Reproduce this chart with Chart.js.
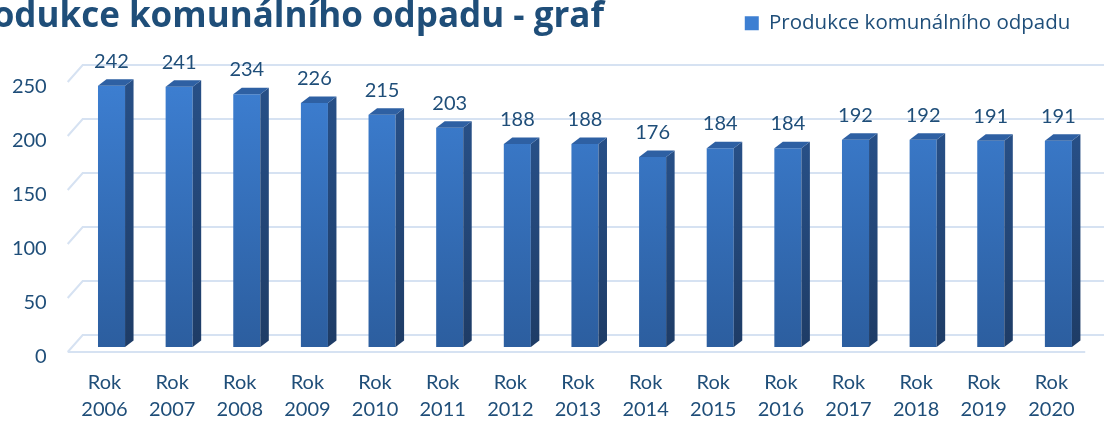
<!DOCTYPE html>
<html lang="cs">
<head>
<meta charset="utf-8">
<title>Produkce komunálního odpadu - graf</title>
<script src="https://cdn.jsdelivr.net/npm/chart.js@4"></script>
<style>
  html, body { margin: 0; padding: 0; background: #fff; }
  #obal { position: relative; width: 1104px; height: 424px; }
</style>
</head>
<body>
<div id="obal"><canvas id="graf"></canvas></div>
<script>
// data
const roky = ['2006', '2007', '2008', '2009', '2010', '2011', '2012', '2013',
              '2014', '2015', '2016', '2017', '2018', '2019', '2020'];
const produkce = [242, 241, 234, 226, 215, 203, 188, 188, 176, 184, 184, 192, 192, 191, 191];
const osaY = [0, 50, 100, 150, 200, 250];
const nazevSerie = 'Produkce komunálního odpadu';
const nadpis = 'Produkce komunálního odpadu - graf';

const barvaTextu = '#1F4E79';
const pismo = 'Lato, "Open Sans", sans-serif';

// hloubka "3D" sloupců a mřížky
const hx = 8.5, hy = 6.5;

const prostor3d = {
  id: 'prostor3d',
  beforeInit(chart) {
    // legenda nahoře, plocha grafu začíná níž
    const fit = chart.legend.fit;
    chart.legend.fit = function () {
      fit.call(this);
      this.height = 86;
    };
  },
  beforeDatasetsDraw(chart) {
    const { ctx, chartArea: a, scales: { y } } = chart;
    ctx.save();
    ctx.strokeStyle = '#D6E2F2';
    ctx.lineWidth = 2;
    y.ticks.forEach(t => {
      const py = y.getPixelForValue(t.value);
      ctx.beginPath();
      ctx.moveTo(a.left - 10, py + 5);
      ctx.lineTo(a.left + 5, py - 12);
      ctx.lineTo(chart.width, py - 12);
      if (t.value === 0) {
        ctx.moveTo(a.left - 10, py + 5);
        ctx.lineTo(a.right - 7, py + 5);
      }
      ctx.stroke();
    });
    ctx.restore();
  },
  afterDatasetsDraw(chart) {
    const { ctx } = chart;
    const meta = chart.getDatasetMeta(0);
    ctx.save();
    meta.data.forEach((bar, i) => {
      const { x, y, base, width } = bar.getProps(['x', 'y', 'base', 'width'], true);
      const l = x - width / 2, r = x + width / 2;

      // boční stěna
      const gs = ctx.createLinearGradient(0, y, 0, base);
      gs.addColorStop(0, '#274F86');
      gs.addColorStop(1, '#1E3C66');
      ctx.fillStyle = gs;
      ctx.beginPath();
      ctx.moveTo(r, y);
      ctx.lineTo(r + hx, y - hy);
      ctx.lineTo(r + hx, base - hy);
      ctx.lineTo(r, base);
      ctx.closePath();
      ctx.fill();

      // horní stěna
      ctx.fillStyle = '#2E60A3';
      ctx.beginPath();
      ctx.moveTo(l, y);
      ctx.lineTo(l + hx, y - hy);
      ctx.lineTo(r + hx, y - hy);
      ctx.lineTo(r, y);
      ctx.closePath();
      ctx.fill();

      // hodnota nad sloupcem
      ctx.fillStyle = barvaTextu;
      ctx.font = '20px ' + pismo;
      ctx.textAlign = 'center';
      ctx.textBaseline = 'alphabetic';
      ctx.fillText(produkce[i], x, y - 18);
    });
    ctx.restore();
  },
  afterDraw(chart) {
    // nadpis je vlevo oříznutý
    const { ctx } = chart;
    ctx.save();
    ctx.fillStyle = barvaTextu;
    ctx.font = 'bold 35px "Open Sans", sans-serif';
    ctx.textAlign = 'right';
    ctx.textBaseline = 'alphabetic';
    ctx.fillText(nadpis, 604, 27);
    ctx.restore();
  }
};

const config = {
  type: 'bar',
  data: {
    labels: roky.map(r => ['Rok', r]),
    datasets: [{
      label: nazevSerie,
      data: produkce,
      backgroundColor(c) {
        const a = c.chart.chartArea;
        if (!a) return '#3A78C8';
        const g = c.chart.ctx.createLinearGradient(0, a.top, 0, a.bottom);
        g.addColorStop(0, '#3D7FD2');
        g.addColorStop(1, '#2C5E9F');
        return g;
      },
      borderWidth: 0,
      barPercentage: 0.4,
      categoryPercentage: 1
    }]
  },
  options: {
    responsive: true,
    maintainAspectRatio: false,
    animation: false,
    layout: { padding: { top: -9, right: 11.7, bottom: 1, left: 0 } },
    plugins: {
      legend: {
        position: 'top',
        align: 'end',
        labels: {
          color: barvaTextu,
          font: { size: 20.5, family: '"Open Sans", sans-serif' },
          boxWidth: 14,
          boxHeight: 14,
          padding: 22
        }
      },
      title: { display: false },
      tooltip: { enabled: false }
    },
    scales: {
      x: {
        afterFit(s) { s.height = 76; },
        grid: { display: false, drawTicks: false },
        border: { display: false },
        ticks: {
          color: barvaTextu,
          font: { size: 20, family: pismo, lineHeight: 1.35 },
          padding: 22,
          labelOffset: -7,
          maxRotation: 0,
          autoSkip: false
        }
      },
      y: {
        min: 0,
        max: 250,
        afterBuildTicks(s) { s.ticks = osaY.map(v => ({ value: v })); },
        afterFit(s) { s.width = 77.7; },
        grid: { display: false, drawTicks: false },
        border: { display: false },
        ticks: {
          color: barvaTextu,
          font: { size: 20, family: pismo },
          padding: 31,
          labelOffset: 10
        }
      }
    }
  },
  plugins: [prostor3d]
};

new Chart(document.getElementById('graf'), config);
</script>
</body>
</html>
